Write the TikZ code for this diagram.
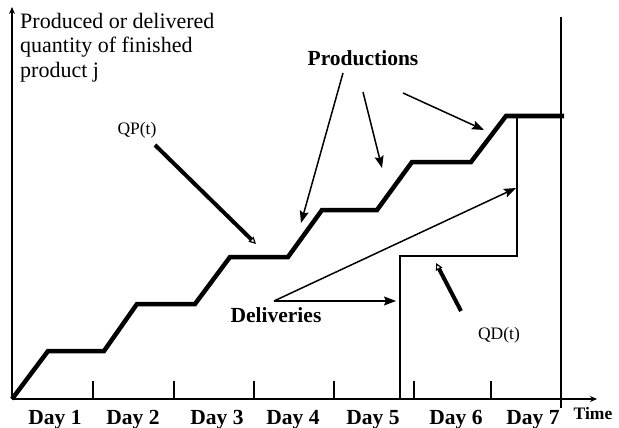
\documentclass[tikz,border=0pt]{standalone}
\usepackage{fontspec}
\setmainfont{Liberation Serif}
\usetikzlibrary{arrows.meta}
\tikzset{
  axis/.style={line width=1.8pt,-{Stealth[length=7pt,width=6pt]}},
  thinline/.style={line width=1.4pt},
  stair/.style={line width=4.5pt,line join=miter,line cap=butt},
  ptr/.style={line width=1.5pt,-{Stealth[length=12pt,width=9pt,inset=2pt]}},
  thickptr/.style={line width=4pt,-{Triangle[open,length=7pt,width=7pt,line width=1.2pt]}},
  boldlbl/.style={font=\fontsize{21.5}{24}\selectfont\bfseries,inner sep=0pt},
  lbl/.style={font=\fontsize{17.5}{20}\selectfont,inner sep=0pt},
  tick/.style={line width=1.4pt}
}
\begin{document}
\begin{tikzpicture}[x=1pt,y=-1pt]
\useasboundingbox (0,0) rectangle (619,428);
% axes
\coordinate (O) at (12,399);
\coordinate (Ytop) at (12,7);
\coordinate (Xend) at (597,399);
\draw[axis] (O) -- (Ytop);
\draw[axis] (O) -- (Xend);
% ticks
\foreach \x in {93,174,254,334,414,491}{
  \draw[tick] (\x,399) -- (\x,381);
}
% vertical end line
\coordinate (Vt) at (561,17);
\coordinate (Vb) at (561,408);
\draw[thinline] (Vt) -- (Vb);
% staircase QP
\coordinate (s0) at (12,399);
\coordinate (s1) at (48,351);
\coordinate (s2) at (104,351);
\coordinate (s3) at (137,304);
\coordinate (s4) at (195,304);
\coordinate (s5) at (230,257);
\coordinate (s6) at (288,257);
\coordinate (s7) at (322,210);
\coordinate (s8) at (377,210);
\coordinate (s9) at (412,162);
\coordinate (s10) at (471,162);
\coordinate (s11) at (506,116);
\coordinate (s12) at (564,116);
\draw[stair] (s0)--(s1)--(s2)--(s3)--(s4)--(s5)--(s6)--(s7)--(s8)--(s9)--(s10)--(s11)--(s12);
% QD
\coordinate (d0) at (400,399);
\coordinate (d1) at (400,256);
\coordinate (d2) at (517,256);
\coordinate (d3) at (517,116);
\draw[thinline] (d0)--(d1)--(d2)--(d3);
% axis label
\node[anchor=north west,inner sep=0pt,align=left,font=\fontsize{22}{24.5}\selectfont] (ylab) at (20,13)
  {Produced or delivered\\quantity of finished\\product j};
% labels
\node[lbl,anchor=base] (qp) at (137,135) {QP(t)};
\node[lbl,anchor=base] (qd) at (499,339) {QD(t)};
\node[boldlbl,anchor=base] (prod) at (363,66) {Productions};
\node[boldlbl,anchor=base] (deliv) at (276,322) {Deliveries};
\node[lbl,font=\fontsize{17.5}{20}\selectfont\bfseries,anchor=base] (time) at (593,419) {Time};
\foreach \n/\x in {1/55,2/133,3/217,4/293,5/373,6/456,7/533}{
  \node[boldlbl,anchor=base] (day\n) at (\x,424) {Day \n};
}
% pointer arrows
\coordinate (qpA) at (155,145);
\coordinate (qpB) at (256,244);
\draw[thickptr] (qpA) -- (qpB);
\coordinate (qdA) at (461,311);
\coordinate (qdB) at (436,263);
\draw[thickptr] (qdA) -- (qdB);
\coordinate (p1) at (343,73);
\coordinate (p1e) at (301,223);
\coordinate (p2) at (363,92);
\coordinate (p2e) at (382,168);
\coordinate (p3) at (403,93);
\coordinate (p3e) at (484,130);
\draw[ptr] (p1) -- (p1e);
\draw[ptr] (p2) -- (p2e);
\draw[ptr] (p3) -- (p3e);
\coordinate (dl) at (274,301);
\coordinate (dle1) at (516,188);
\coordinate (dle2) at (396,301);
\draw[ptr] (dl) -- (dle1);
\draw[ptr] (dl) -- (dle2);
\end{tikzpicture}
\end{document}
